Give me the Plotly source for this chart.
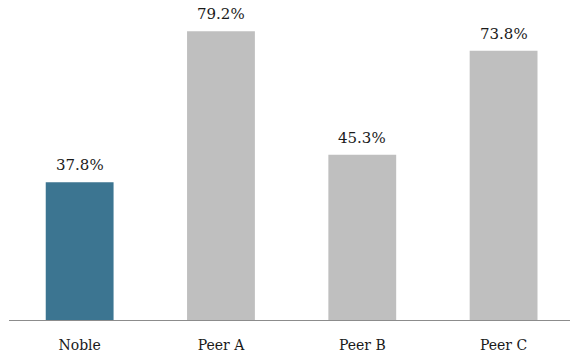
import plotly.graph_objects as go

categories = ["Noble", "Peer A", "Peer B", "Peer C"]
values = [37.8, 79.2, 45.3, 73.8]
labels = ["37.8%", "79.2%", "45.3%", "73.8%"]
colors = ["#3C7591", "#BFBFBF", "#BFBFBF", "#BFBFBF"]

fig = go.Figure()
fig.add_trace(go.Bar(x=categories, y=values, marker_color=colors, width=0.48,
                     marker_line_width=0, hoverinfo="skip"))

for c, v, t in zip(categories, values, labels):
    fig.add_annotation(x=c, y=v, text=t, showarrow=False, yanchor="bottom",
                       yshift=6, font=dict(family="DejaVu Serif", size=15, color="#1a1a1a"))

fig.update_layout(
    width=570, height=360,
    margin=dict(l=9, r=0, t=10, b=40),
    plot_bgcolor="white", paper_bgcolor="white",
    showlegend=False,
    font=dict(family="DejaVu Serif", size=14, color="#1a1a1a"),
    xaxis=dict(range=[-0.5, 3.47], showline=True, linecolor="#8c8c8c", linewidth=1,
               ticks="", showgrid=False, ticklabelstandoff=12, fixedrange=True),
    yaxis=dict(range=[0, 85], visible=False, showgrid=False, fixedrange=True),
)

fig.write_html("out.html")
